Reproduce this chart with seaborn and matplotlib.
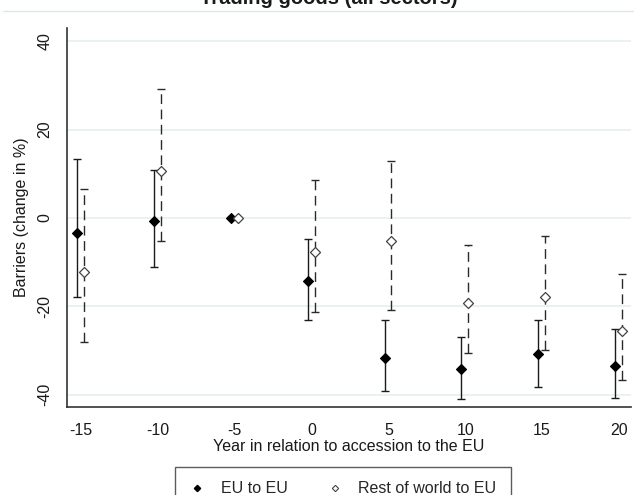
import numpy as np
import pandas as pd
import matplotlib
matplotlib.use("Agg")
import matplotlib.pyplot as plt
from matplotlib.lines import Line2D
import seaborn as sns

# ---- data ----
years = [-15, -10, -5, 0, 5, 10, 15, 20]
eu_est = [-3.4, -0.7, 0.0, -14.3, -31.6, -34.2, -30.8, -33.5]
eu_lo = [-17.9, -11.2, 0.0, -23.2, -39.1, -41.0, -38.2, -40.8]
eu_hi = [13.3, 10.9, 0.0, -4.8, -23.2, -26.9, -23.0, -25.1]
row_est = [-12.3, 10.6, 0.0, -7.8, -5.3, -19.2, -17.9, -25.6]
row_lo = [-28.0, -5.3, 0.0, -21.3, -20.8, -30.6, -29.9, -36.6]
row_hi = [6.6, 29.3, 0.0, 8.5, 13.0, -6.2, -4.1, -12.8]
series_names = ["EU to EU", "Rest of world to EU"]
y_ticks = [-40, -20, 0, 20, 40]
x_ticks = years
title = "Trading goods (all sectors)"
xlabel = "Year in relation to accession to the EU"
ylabel = "Barriers (change in %)"

sns.set_theme(style="white")
plt.rcParams["font.family"] = ["Liberation Sans", "DejaVu Sans"]

fig = plt.figure(figsize=(6.34, 4.95), dpi=100)
ax = fig.add_axes([67 / 634, 1 - 407 / 495, (631 - 67) / 634, (407 - 28) / 495])

offsets = [-0.25, 0.2]
df = pd.DataFrame({
    "x": np.concatenate([np.array(years) + offsets[0], np.array(years) + offsets[1]]),
    "est": eu_est + row_est,
    "lo": eu_lo + row_lo,
    "hi": eu_hi + row_hi,
    "series": [series_names[0]] * len(years) + [series_names[1]] * len(years),
})

# grid
for yt in y_ticks:
    ax.axhline(yt, color="#e3eeee", lw=1.1, zorder=0)

# error bars
styles = {
    series_names[0]: dict(ls="-", color="#1a1a1a"),
    series_names[1]: dict(ls=(0, (7, 4)), color="#2a2a2a"),
}
for name, sub in df.groupby("series", sort=False):
    sub = sub[sub["hi"] > sub["lo"]]
    eb = ax.errorbar(sub["x"], sub["est"],
                     yerr=[sub["est"] - sub["lo"], sub["hi"] - sub["est"]],
                     fmt="none", ecolor=styles[name]["color"], elinewidth=1.0,
                     capsize=2.6, capthick=1.0, zorder=2)
    eb[2][0].set_linestyle(styles[name]["ls"])

# points
sns.scatterplot(data=df[df.series == series_names[0]], x="x", y="est", ax=ax,
                marker="D", s=26, color="black", edgecolor="black", linewidth=0.8,
                zorder=3, legend=False)
sns.scatterplot(data=df[df.series == series_names[1]], x="x", y="est", ax=ax,
                marker="D", s=26, color="white", edgecolor="#444444", linewidth=0.9,
                zorder=3, legend=False)

ax.set_xlim(-15.93, 20.8)
ax.set_ylim(-42.8, 43.0)
ax.set_xticks(x_ticks)
ax.set_xticklabels([str(v) for v in x_ticks])
ax.set_yticks(y_ticks)
ax.set_yticklabels([str(v) for v in y_ticks], rotation=90, va="center")
ax.tick_params(axis="both", which="both", direction="out", length=6.5, width=1.0,
               color="#333333", labelsize=11.5, labelcolor="#1a1a1a", pad=3)
ax.tick_params(axis="x", pad=5)
ax.tick_params(axis="y", pad=4)
ax.set_xlabel(xlabel, fontsize=11.5, color="#1a1a1a", labelpad=1)
ax.set_ylabel(ylabel, fontsize=11.5, color="#1a1a1a", labelpad=6)

for side in ["top", "right"]:
    ax.spines[side].set_visible(False)
for side in ["left", "bottom"]:
    ax.spines[side].set_color("#333333")
    ax.spines[side].set_linewidth(1.2)

# title (clipped at the top of the image, as in the reference)
fig.text(0.518, 1 - 3.5 / 495, title, ha="center", va="baseline",
         fontsize=14.5, fontweight="bold", color="#1a1a1a")
fig.add_artist(Line2D([3 / 634, 1.0], [1 - 10.5 / 495, 1 - 10.5 / 495],
                      transform=fig.transFigure, color="#dde9e9", lw=1.0))

# legend
handles = [
    Line2D([], [], ls="none", marker="D", ms=3.2, mfc="black", mec="black"),
    Line2D([], [], ls="none", marker="D", ms=3.2, mfc="white", mec="#444444", mew=0.8),
]
leg = fig.legend(handles, series_names, loc="upper left",
                 bbox_to_anchor=(175 / 634, 1 - 467 / 495), ncol=2,
                 fontsize=11.5, frameon=True, fancybox=False, edgecolor="#333333",
                 handlelength=1.0, handletextpad=1.0, columnspacing=2.4,
                 borderpad=0.9, borderaxespad=0)
leg.get_frame().set_linewidth(1.0)

fig.savefig("out.png", dpi=100)
